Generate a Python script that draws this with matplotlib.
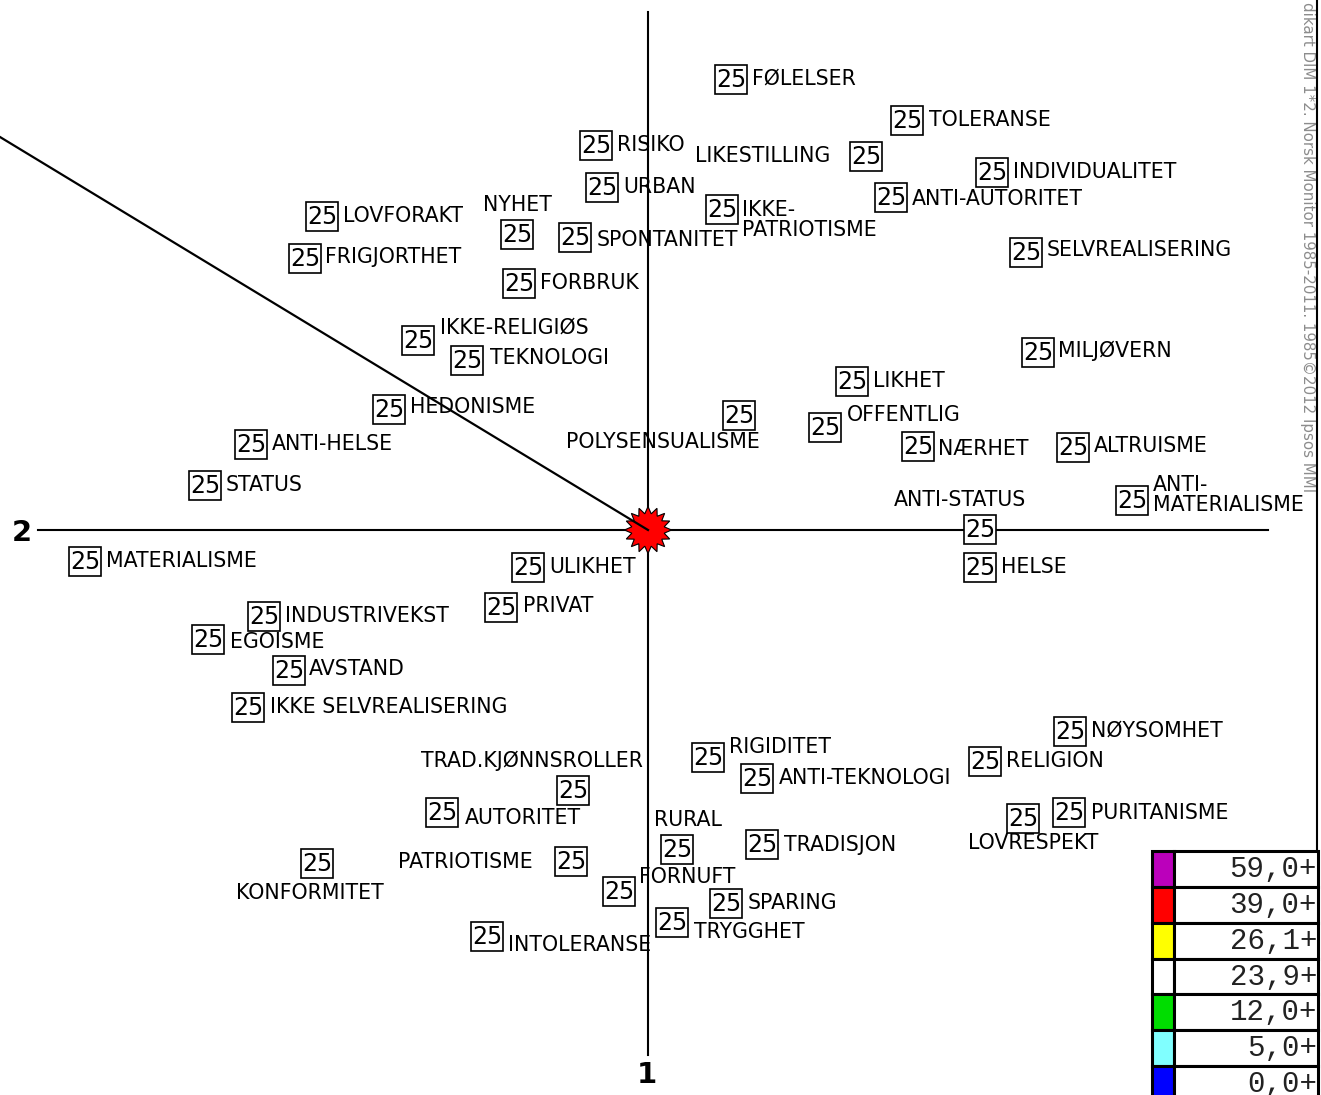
import matplotlib
matplotlib.use("Agg")
import matplotlib.pyplot as plt
import numpy as np
from matplotlib.patches import Rectangle, Polygon

# map coordinates: dimension 2 horizontal, dimension 1 vertical (origin at centre)
NAMES = [
    "FØLELSER", "TOLERANSE", "RISIKO", "LIKESTILLING", "INDIVIDUALITET", "URBAN",
    "ANTI-AUTORITET", "LOVFORAKT", "NYHET", "IKKE-\nPATRIOTISME", "SPONTANITET",
    "FRIGJORTHET", "SELVREALISERING", "FORBRUK", "IKKE-RELIGIØS", "TEKNOLOGI",
    "MILJØVERN", "LIKHET", "HEDONISME", "POLYSENSUALISME", "OFFENTLIG", "ANTI-HELSE",
    "NÆRHET", "ALTRUISME", "STATUS", "ANTI-STATUS", "ANTI-\nMATERIALISME",
    "MATERIALISME", "ULIKHET", "HELSE", "PRIVAT", "INDUSTRIVEKST", "EGOISME",
    "AVSTAND", "IKKE SELVREALISERING", "NØYSOMHET", "RIGIDITET", "RELIGION",
    "TRAD.KJØNNSROLLER", "ANTI-TEKNOLOGI", "AUTORITET", "PURITANISME", "LOVRESPEKT",
    "RURAL", "TRADISJON", "KONFORMITET", "PATRIOTISME", "FORNUFT", "SPARING",
    "TRYGGHET", "INTOLERANSE",
]
DIM2 = [83, 259, -52, 218, 344, -46, 243, -326, -131, 74, -73, -343, 378, -129,
        -230, -181, 390, 204, -259, 91, 177, -397, 270, 425, -443, 332, 484,
        -563, -120, 332, -147, -384, -440, -359, -400, 422, 60, 337, -75, 109,
        -206, 421, 375, 29, 114, -331, -77, -29, 78, 24, -161]
DIM1 = [451, 410, 385, 374, 358, 343, 333, 314, 296, 321, 293, 272, 278, 247,
        190, 170, 178, 149, 121, 115, 103, 86, 84, 83, 45, 1, 30, -31, -37, -37,
        -77, -86, -109, -140, -177, -201, -227, -231, -260, -248, -282, -282,
        -288, -319, -314, -333, -331, -361, -373, -392, -406]
VALUES = ["25"] * len(NAMES)

# label placement relative to the box (pixels) and alignment
LABEL_DX = [21, 22, 21, -36, 21, 21, 21, 21, 0, 20, 22, 20, 21, 21, 22, 23, 20,
            21, 21, 21, 22, 21, 20, 21, 21, -20, 21, 21, 21, 21, 22, 21, 22, 20,
            22, 21, 21, 21, -41, 22, 23, 22, 10, 11, 22, -7, -38, 20, 22, 22, 21]
LABEL_DY = [0, 0, 0, 0, 0, 0, -2, 0, 29, -11, -3, 1, 2, 0, 12, 2, 1, 0, 2, -27,
            12, 0, -3, 1, 0, 29, 5, 0, 0, 0, 1, 0, -3, 1, 0, 0, 10, 0, 29, 0, -6,
            -1, -25, 29, -1, -30, -1, 14, 0, -10, -9]
LABEL_HA = ["left"] * len(NAMES)
for i, h in [(3, "right"), (8, "center"), (19, "right"), (25, "center"),
             (38, "center"), (42, "center"), (43, "center"), (45, "center"),
             (46, "right")]:
    LABEL_HA[i] = h

# projected variable vector (ends at left edge)
VECTOR = (-648, 393)

LEGEND_LABELS = ["59,0+", "39,0+", "26,1+", "23,9+", "12,0+", "5,0+", "0,0+"]
LEGEND_COLORS = ["#bb00bb", "#ff0000", "#ffff00", "#ffffff", "#00dd00",
                 "#80ffff", "#0000ff"]

W, H = 1321, 1095
fig = plt.figure(figsize=(W / 100, H / 100), dpi=100)
ax = fig.add_axes([0, 0, 1, 1])
ax.set_xlim(-648, W - 648)
ax.set_ylim(530 - H, 530)
ax.axis("off")

# axes of the map
ax.plot([-610, 620], [0, 0], color="black", lw=1.5, zorder=1)
ax.plot([0, 0], [-525, 518], color="black", lw=1.5, zorder=1)
ax.text(-626, -3, "2", fontsize=21, fontweight="bold", ha="center", va="center")
ax.text(-1, -545, "1", fontsize=21, fontweight="bold", ha="center", va="center")

# centre star
n = 16
ang = np.linspace(0, 2 * np.pi, 2 * n, endpoint=False) + np.pi / 2
rad = np.where(np.arange(2 * n) % 2 == 0, 23.5, 16.5)
star = Polygon(np.column_stack([rad * np.cos(ang), rad * np.sin(ang)]),
               closed=True, facecolor="#ff0000", edgecolor="black", lw=0.8, zorder=3)
ax.add_patch(star)
ax.plot([0, VECTOR[0]], [0, VECTOR[1]], color="black", lw=1.6, zorder=4)

# points: boxed value plus label
for name, x, y, v, dx, dy, ha in zip(NAMES, DIM2, DIM1, VALUES, LABEL_DX,
                                     LABEL_DY, LABEL_HA):
    ax.add_patch(Rectangle((x - 16, y - 14.5), 32, 29, facecolor="white",
                           edgecolor="black", lw=1.2, zorder=2))
    ax.text(x, y - 1, v, fontsize=17, ha="center", va="center", zorder=5)
    ax.text(x + dx, y + dy, name, fontsize=14.8, ha=ha, va="center",
            linespacing=1.0, zorder=5)

# right border and source note
ax.plot([669, 669], [530 - H, 530], color="black", lw=1.5, zorder=1)
fig.text(1308 / W, 1 - 2 / H, "dikart DIM 1*2. Norsk Monitor 1985-2011. 1985©2012 Ipsos MMI",
         rotation=270, fontsize=10.8, color="#8c8c8c", ha="center", va="top")

# colour scale legend
lax = fig.add_axes([1152 / W, -7 / H, 166 / W, 251 / H])
lax.set_xlim(0, 166)
lax.set_ylim(len(LEGEND_LABELS), 0)
lax.axis("off")
for i, (lab, col) in enumerate(zip(LEGEND_LABELS, LEGEND_COLORS)):
    lax.add_patch(Rectangle((0, i), 22, 1, facecolor=col, edgecolor="black",
                            lw=2.2, clip_on=False))
    lax.add_patch(Rectangle((22, i), 144, 1, facecolor="white", edgecolor="black",
                            lw=2.2, clip_on=False))
    lax.text(165, i + 0.5, lab, family="Liberation Mono", fontsize=21,
             color="#222222", ha="right", va="center")

fig.savefig("out.png", dpi=100)
